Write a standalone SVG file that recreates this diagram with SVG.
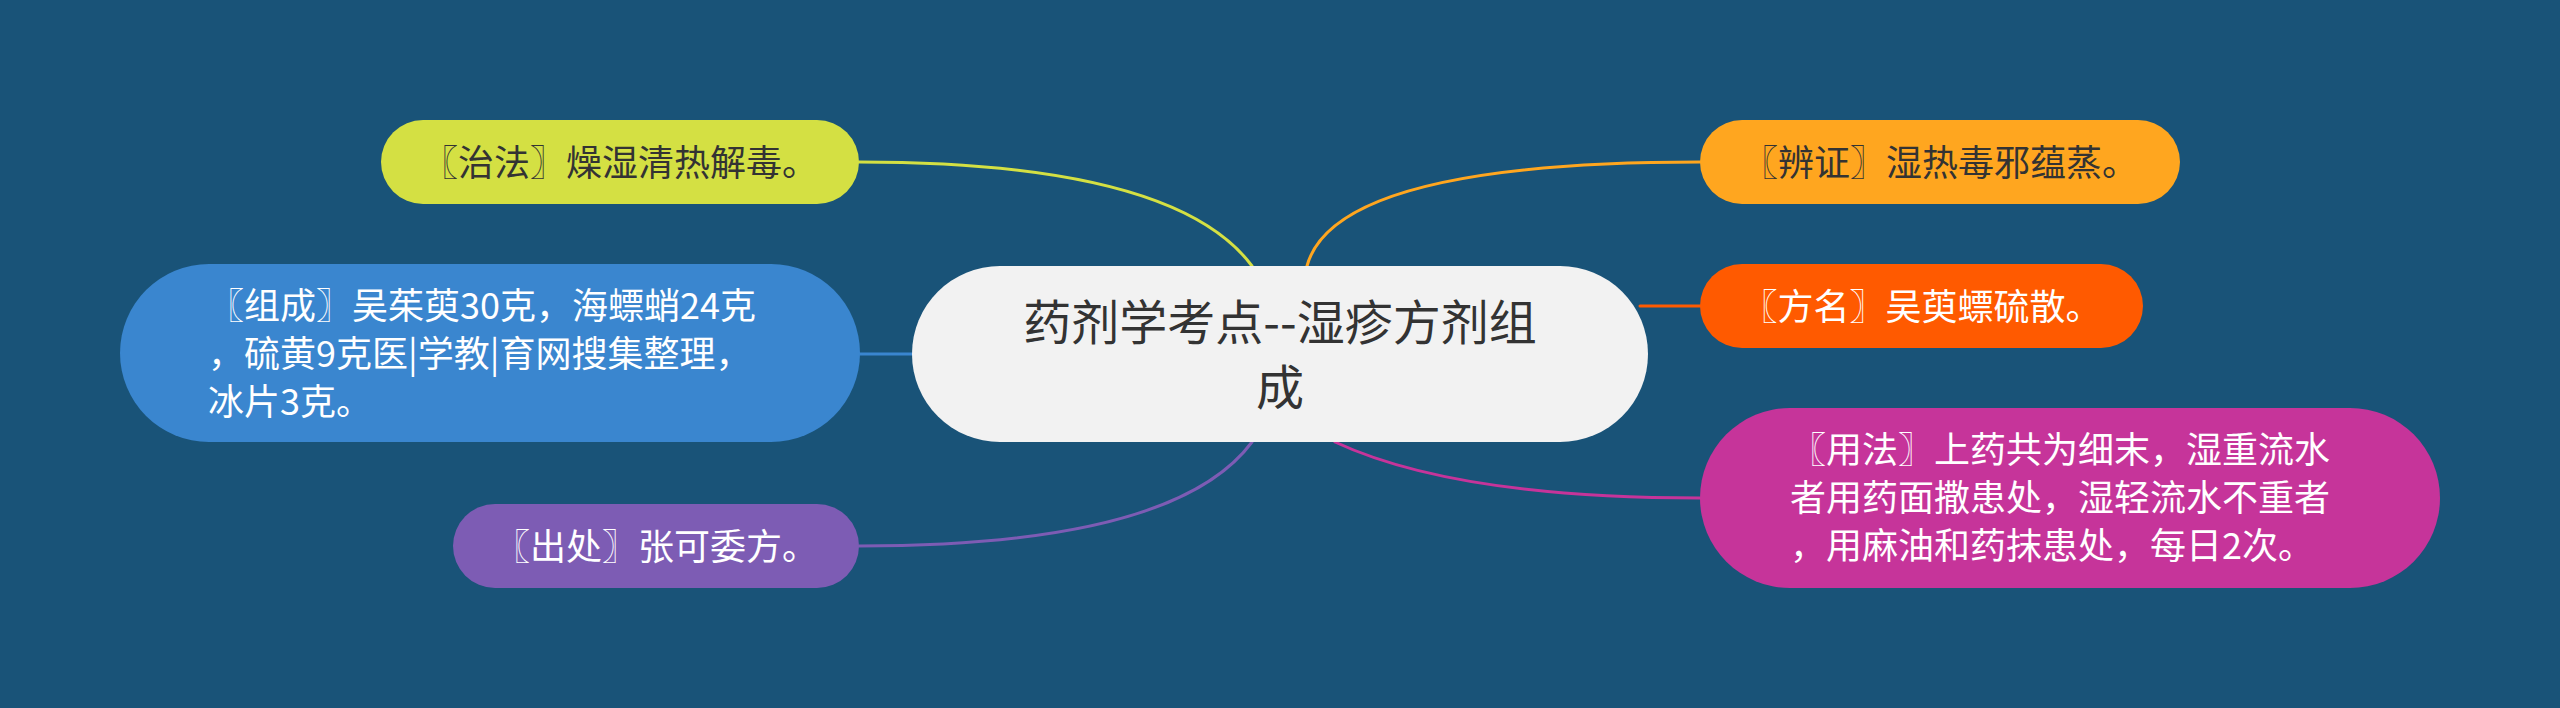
<svg xmlns="http://www.w3.org/2000/svg" width="2560" height="708" viewBox="0 0 2560 708">
  <style>
    text { font-family: "Noto Sans CJK SC", "Noto Sans", sans-serif; }
    .t36 { font-size: 36px; }
    .dark { fill: #333333; }
    .light { fill: #ffffff; }
    .mid { text-anchor: middle; }
    .conn { fill: none; stroke-width: 3; stroke-linecap: round; }
  </style>
  <rect x="0" y="0" width="2560" height="708" fill="#195378"/>
  <g id="connectors">
    <path class="conn" stroke="#d4e043" d="M 859 162 Q 1175 162 1252 266"/>
    <path class="conn" stroke="#3a86cf" d="M 859 354 L 915 354"/>
    <path class="conn" stroke="#7d5cb4" d="M 859 546 Q 1175 546 1252 442"/>
    <path class="conn" stroke="#ffa61f" d="M 1700 162 Q 1335 162 1307 266"/>
    <path class="conn" stroke="#ff5a00" d="M 1640 306 L 1700 306"/>
    <path class="conn" stroke="#c6349a" d="M 1700 498 Q 1455 498 1335 442"/>
  </g>
  <g id="center">
    <rect x="912" y="266" width="736" height="176" rx="88" fill="#f2f2f2"/>
    <text class="dark mid" font-size="48" x="1280" y="340">药剂学考点--湿疹方剂组</text>
    <text class="dark mid" font-size="48" x="1280" y="405">成</text>
  </g>
  <g id="node-zhifa">
    <rect x="381" y="120" width="478" height="84" rx="42" fill="#d4e043"/>
    <text class="t36 dark mid" x="620" y="176">〖治法〗燥湿清热解毒。</text>
  </g>
  <g id="node-zucheng">
    <rect x="120" y="264" width="740" height="178" rx="89" fill="#3a86cf"/>
    <text class="t36 light" x="208" y="319">〖组成〗吴茱萸30克，海螵蛸24克</text>
    <text class="t36 light" x="208" y="367">，硫黄9克医|学教|育网搜集整理，</text>
    <text class="t36 light" x="208" y="415">冰片3克。</text>
  </g>
  <g id="node-chuchu">
    <rect x="453" y="504" width="406" height="84" rx="42" fill="#7d5cb4"/>
    <text class="t36 light mid" x="656" y="560">〖出处〗张可委方。</text>
  </g>
  <g id="node-bianzheng">
    <rect x="1700" y="120" width="480" height="84" rx="42" fill="#ffa61f"/>
    <text class="t36 dark mid" x="1940" y="176">〖辨证〗湿热毒邪蕴蒸。</text>
  </g>
  <g id="node-fangming">
    <rect x="1700" y="264" width="443" height="84" rx="42" fill="#ff5a00"/>
    <text class="t36 light mid" x="1921.5" y="320">〖方名〗吴萸螵硫散。</text>
  </g>
  <g id="node-yongfa">
    <rect x="1700" y="408" width="740" height="180" rx="90" fill="#c6349a"/>
    <text class="t36 light" x="1790" y="463">〖用法〗上药共为细末，湿重流水</text>
    <text class="t36 light" x="1790" y="511">者用药面撒患处，湿轻流水不重者</text>
    <text class="t36 light" x="1790" y="559">，用麻油和药抹患处，每日2次。</text>
  </g>
</svg>
